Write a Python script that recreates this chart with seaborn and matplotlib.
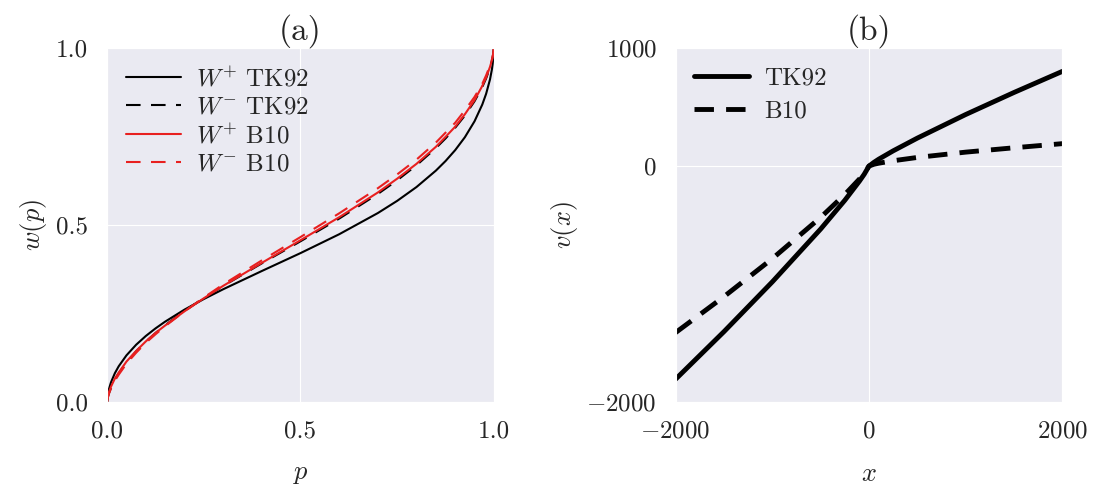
import numpy as np
import pandas as pd
import seaborn as sns
import matplotlib
matplotlib.use("Agg")
import matplotlib.pyplot as plt

# probability weighting functions
p = [0, 0.001, 0.003, 0.005, 0.01, 0.02, 0.03, 0.05, 0.075, 0.1, 0.125, 0.15, 0.2, 0.25, 0.3, 0.4, 0.5,
     0.6, 0.7, 0.75, 0.8, 0.85, 0.875, 0.9, 0.925, 0.95, 0.97, 0.98, 0.99, 0.995, 0.997, 0.999, 1]
w_plus_tk92 = [0, 0.0145, 0.0277, 0.0372, 0.0553, 0.0811, 0.1008, 0.1316, 0.1616, 0.1863, 0.2077, 0.2269,
               0.2608, 0.2908, 0.3184, 0.3700, 0.4206, 0.4739, 0.5338, 0.5683, 0.6074, 0.6537, 0.6808,
               0.7117, 0.7481, 0.7932, 0.8404, 0.8710, 0.9115, 0.9402, 0.9554, 0.9766, 1]
w_minus_tk92 = [0, 0.0084, 0.0178, 0.0250, 0.0397, 0.0624, 0.0808, 0.1115, 0.1430, 0.1702, 0.1945, 0.2167,
                0.2570, 0.2935, 0.3276, 0.3916, 0.4540, 0.5181, 0.5878, 0.6264, 0.6689, 0.7173, 0.7446,
                0.7749, 0.8093, 0.8498, 0.8900, 0.9145, 0.9451, 0.9651, 0.9751, 0.9881, 1]
w_plus_b10 = [0, 0.010, 0.020, 0.028, 0.043, 0.066, 0.083, 0.114, 0.144, 0.171, 0.195, 0.216,
              0.256, 0.293, 0.328, 0.393, 0.457, 0.522, 0.592, 0.631, 0.673, 0.721, 0.749,
              0.778, 0.813, 0.853, 0.893, 0.917, 0.947, 0.966, 0.976, 0.989, 1]
w_minus_b10 = [0, 0.008, 0.017, 0.024, 0.038, 0.060, 0.077, 0.108, 0.139, 0.167, 0.191, 0.214,
               0.256, 0.295, 0.332, 0.400, 0.466, 0.533, 0.604, 0.643, 0.685, 0.733, 0.761,
               0.789, 0.824, 0.862, 0.899, 0.923, 0.951, 0.968, 0.977, 0.990, 1]

# value functions
x = [-2000, -1500, -1000, -500, -250, -100, -50, 0, 50, 100, 250, 500, 1000, 1500, 2000]
v_tk92 = [-1807, -1404, -982, -534, -290, -129, -70, 0, 31, 58, 129, 237, 437, 624, 803]
v_b10 = [-1412, -1107, -785, -435, -241, -111, -61, 0, 15, 24, 45, 73, 118, 155, 190]

sns.set_style("darkgrid")
plt.rcParams["font.family"] = "serif"
plt.rcParams["font.serif"] = ["cmr10", "DejaVu Serif"]
plt.rcParams["mathtext.fontset"] = "cm"
plt.rcParams["axes.formatter.use_mathtext"] = True
plt.rcParams["axes.unicode_minus"] = True

fs = 18
red = "#e82020"
fig, (ax1, ax2) = plt.subplots(1, 2, figsize=(10.93, 4.86), dpi=100)
fig.subplots_adjust(left=0.098, right=0.972, bottom=0.173, top=0.901, wspace=0.47)

# (a) weighting functions
sns.lineplot(x=p, y=w_plus_tk92, color="k", lw=1.5, label=r"$W^{+}$ TK92", ax=ax1)
sns.lineplot(x=p, y=w_minus_tk92, color="k", lw=1.5, linestyle=(0, (7, 5)), label=r"$W^{-}$ TK92", ax=ax1)
sns.lineplot(x=p, y=w_plus_b10, color=red, lw=1.5, label=r"$W^{+}$ B10", ax=ax1)
sns.lineplot(x=p, y=w_minus_b10, color=red, lw=1.5, linestyle=(0, (7, 5)), label=r"$W^{-}$ B10", ax=ax1)
ax1.set_xlim(0, 1)
ax1.set_ylim(0, 1)
ax1.set_xticks([0, 0.5, 1.0])
ax1.set_yticks([0, 0.5, 1.0])
ax1.set_xticklabels(["0.0", "0.5", "1.0"])
ax1.set_yticklabels(["0.0", "0.5", "1.0"])
ax1.set_xlabel(r"$p$", fontsize=fs + 1, labelpad=14)
ax1.set_ylabel(r"$w(p)$", fontsize=fs + 1, labelpad=5)
ax1.set_title("(a)", fontsize=24, pad=6)
ax1.legend(loc="upper left", frameon=False, fontsize=fs, handlelength=2.2, handletextpad=0.6,
           labelspacing=0.2, borderaxespad=0.35)

# (b) value functions
sns.lineplot(x=x, y=v_tk92, color="k", lw=3.5, label="TK92", ax=ax2)
sns.lineplot(x=x, y=v_b10, color="k", lw=3.5, linestyle=(0, (4, 2.5)), label="B10", ax=ax2)
ax2.set_xlim(-2000, 2000)
ax2.set_ylim(-2000, 1000)
ax2.set_xticks([-2000, 0, 2000])
ax2.set_yticks([-2000, 0, 1000])
ax2.set_xlabel(r"$x$", fontsize=fs + 1, labelpad=14)
ax2.set_ylabel(r"$v(x)$", fontsize=fs + 1, labelpad=5)
ax2.set_title("(b)", fontsize=24, pad=6)
ax2.legend(loc="upper left", frameon=False, fontsize=fs, handlelength=2.2, handletextpad=0.6,
           labelspacing=0.42, borderaxespad=0.35)

for ax in (ax1, ax2):
    ax.tick_params(labelsize=fs, pad=10)
    for lab in ax.get_xticklabels() + ax.get_yticklabels():
        lab.set_color("#262626")

plt.savefig("out.png", dpi=100)
